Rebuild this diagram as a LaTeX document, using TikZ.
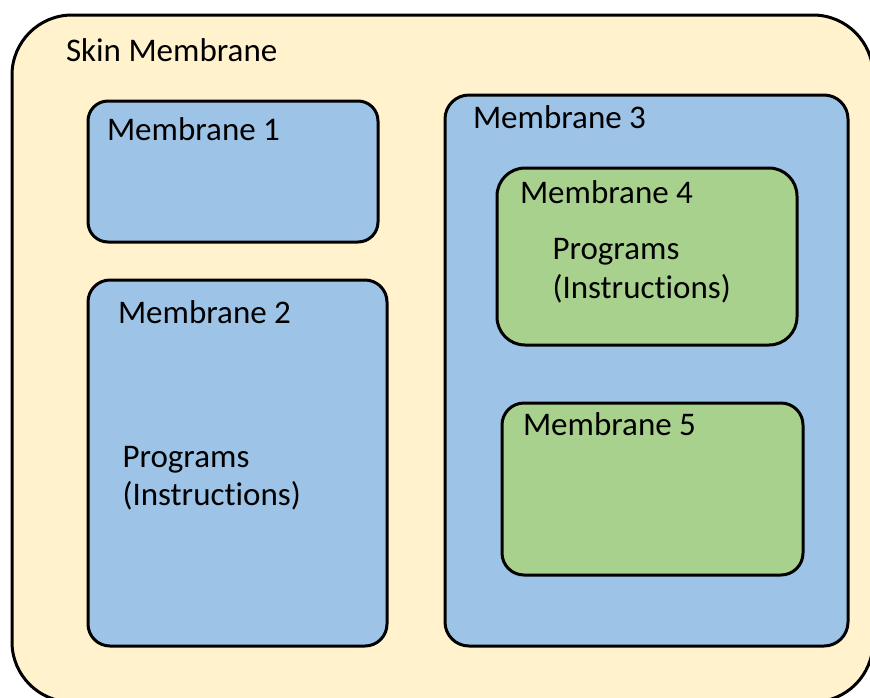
\documentclass[tikz,border=0pt]{standalone}
\usepackage{fontspec}
\setmainfont{Carlito}[Ligatures=NoCommon]
\definecolor{skincream}{HTML}{FFF2CC}
\definecolor{membblue}{HTML}{9DC3E6}
\definecolor{membgreen}{HTML}{A9D18E}
\tikzset{
  membrane/.style={draw=black, line width=3pt, inner sep=0pt, outer sep=0pt,
    anchor=north west, rectangle},
  lbl/.style={anchor=base west, inner sep=0pt, outer sep=0pt,
    font=\fontsize{33}{39}\selectfont, text=black}
}
\begin{document}
\begin{tikzpicture}[x=1pt,y=-1pt]
  \useasboundingbox (0,0) rectangle (870,697);
  \clip (0,0) rectangle (870,697);
  \fill[white] (0,0) rectangle (870,697);
  % outer skin membrane, running past the frame on the right and bottom
  \node[membrane, fill=skincream, rounded corners=60pt,
        minimum width=861pt, minimum height=687pt] (skin) at (12,15) {};
  % membranes directly inside the skin
  \node[membrane, fill=membblue, rounded corners=20pt,
        minimum width=290pt, minimum height=141pt] (m1) at (88,101) {};
  \node[membrane, fill=membblue, rounded corners=22pt,
        minimum width=299pt, minimum height=366pt] (m2) at (88,280) {};
  \node[membrane, fill=membblue, rounded corners=24pt,
        minimum width=403pt, minimum height=551pt] (m3) at (445,95) {};
  % membranes nested in membrane 3
  \node[membrane, fill=membgreen, rounded corners=28pt,
        minimum width=300pt, minimum height=177pt] (m4) at (497,168) {};
  \node[membrane, fill=membgreen, rounded corners=22pt,
        minimum width=301pt, minimum height=172pt] (m5) at (502,403) {};
  % labels
  \node[lbl] (tskin) at (66,61) {Skin Membrane};
  \node[lbl] (t1) at (107,140) {Membrane 1};
  \node[lbl] (t2) at (118,323.5) {Membrane 2};
  \node[lbl] (p2a) at (122.5,467) {Programs};
  \node[lbl] (p2b) at (122.5,505.5) {(Instructions)};
  \node[lbl] (t3) at (473,128.5) {Membrane 3};
  \node[lbl] (t4) at (520,203.5) {Membrane 4};
  \node[lbl] (p4a) at (552.5,259) {Programs};
  \node[lbl] (p4b) at (552.5,298) {(Instructions)};
  \node[lbl] (t5) at (523,435) {Membrane 5};
\end{tikzpicture}
\end{document}
